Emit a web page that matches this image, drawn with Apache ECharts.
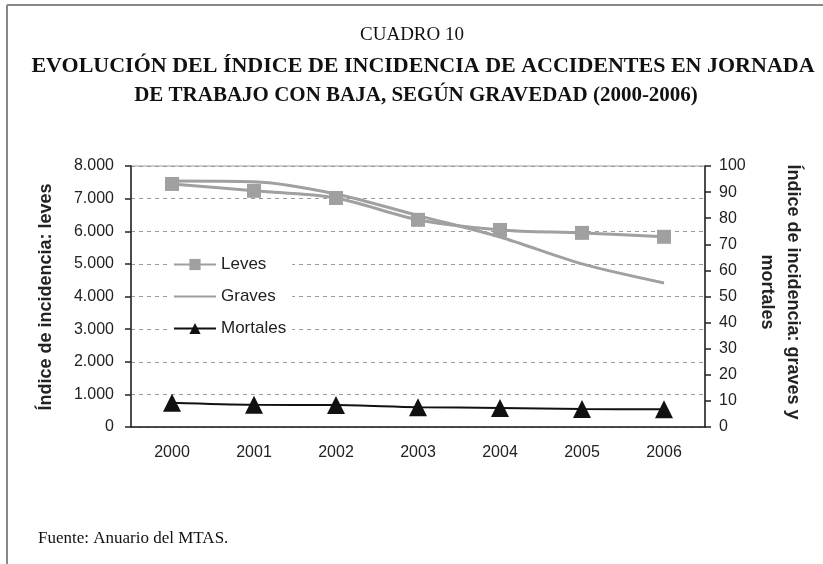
<!DOCTYPE html>
<html>
<head>
<meta charset="utf-8">
<script src="https://cdn.jsdelivr.net/npm/echarts@6/dist/echarts.min.js"></script>
<style>
    html, body { margin: 0; padding: 0; background: #fff; }
    #chart { width: 823px; height: 564px; }
</style>
</head>
<body>
<div id="chart"></div>
<script>
    // datos del cuadro
    var years = ['2000', '2001', '2002', '2003', '2004', '2005', '2006'];
    var leves = [7450, 7240, 7020, 6350, 6040, 5950, 5830];
    var graves = [94.3, 94.0, 89.3, 81.0, 72.8, 62.5, 55.2];
    var mortales = [9.3, 8.5, 8.4, 7.6, 7.3, 6.9, 6.8];
    var leftTicks = [0, 1000, 8000];   // min, interval, max
    var rightTicks = [0, 10, 100];

    var myChart = echarts.init(document.getElementById('chart'));

    function fmtMiles(v) {
        return String(v).replace(/\B(?=(\d{3})+(?!\d))/g, '.');
    }

    var option = {
        animation: false,
        textStyle: { fontFamily: 'Liberation Sans' },
        grid: {
            left: 131, right: 118, top: 166, bottom: 137,
            show: true,
            borderColor: '#9a9a9a',
            borderWidth: 1
        },
        legend: {
            orient: 'vertical',
            left: 169,
            top: 252,
            itemGap: 15,
            itemWidth: 42,
            itemHeight: 14,
            backgroundColor: '#fff',
            padding: [4, 6, 4, 4],
            textStyle: { fontSize: 17, color: '#222', fontFamily: 'Liberation Sans' },
            data: ['Leves', { name: 'Graves', itemStyle: { opacity: 0 } }, 'Mortales']
        },
        xAxis: {
            type: 'category',
            data: years,
            boundaryGap: true,
            axisLine: { lineStyle: { color: '#222', width: 1.5 } },
            axisTick: { length: 6, lineStyle: { color: '#222', width: 1.5 } },
            axisLabel: { color: '#222', fontSize: 16, margin: 18 }
        },
        yAxis: [{
            type: 'value',
            min: leftTicks[0],
            interval: leftTicks[1],
            max: leftTicks[2],
            axisLine: { show: true, lineStyle: { color: '#222', width: 1.5 } },
            axisTick: { show: true, length: 6, lineStyle: { color: '#222', width: 1.5 } },
            axisLabel: { color: '#222', fontSize: 16, margin: 17, formatter: fmtMiles },
            splitLine: { lineStyle: { color: '#9a9a9a', type: [4, 4] } }
        }, {
            type: 'value',
            min: rightTicks[0],
            interval: rightTicks[1],
            max: rightTicks[2],
            axisLine: { show: true, lineStyle: { color: '#222', width: 1.5 } },
            axisTick: { show: true, length: 6, lineStyle: { color: '#222', width: 1.5 } },
            axisLabel: { color: '#222', fontSize: 16, margin: 14 },
            splitLine: { show: false }
        }],
        series: [
            {
                name: 'Leves',
                type: 'line',
                yAxisIndex: 0,
                data: leves,
                smooth: 0.3,
                symbol: 'rect',
                symbolSize: 14,
                itemStyle: { color: '#a0a0a0' },
                lineStyle: { color: '#a0a0a0', width: 3 }
            },
            {
                name: 'Graves',
                type: 'line',
                yAxisIndex: 1,
                data: graves,
                smooth: 0.3,
                symbol: 'none',
                itemStyle: { color: '#a0a0a0' },
                lineStyle: { color: '#a0a0a0', width: 3 }
            },
            {
                name: 'Mortales',
                type: 'line',
                yAxisIndex: 1,
                data: mortales,
                smooth: 0.3,
                symbol: 'triangle',
                symbolSize: 18,
                itemStyle: { color: '#111' },
                lineStyle: { color: '#111', width: 2 }
            }
        ],
        graphic: [
            { type: 'line', shape: { x1: 7, y1: 5, x2: 823, y2: 5 }, style: { stroke: '#888', lineWidth: 2 } },
            { type: 'line', shape: { x1: 7, y1: 5, x2: 7, y2: 564 }, style: { stroke: '#888', lineWidth: 2 } },
            {
                type: 'text', x: 412, y: 35,
                style: { text: 'CUADRO 10', font: '19px "Liberation Serif"', fill: '#111', textAlign: 'center', textVerticalAlign: 'middle' }
            },
            {
                type: 'text', x: 423, y: 66,
                style: { text: 'EVOLUCIÓN DEL ÍNDICE DE INCIDENCIA DE ACCIDENTES EN JORNADA', font: 'bold 22px "Liberation Serif"', fill: '#111', textAlign: 'center', textVerticalAlign: 'middle' }
            },
            {
                type: 'text', x: 416, y: 96,
                style: { text: 'DE TRABAJO CON BAJA, SEGÚN GRAVEDAD (2000-2006)', font: 'bold 21px "Liberation Serif"', fill: '#111', textAlign: 'center', textVerticalAlign: 'middle' }
            },
            {
                type: 'text', x: 46, y: 297, rotation: Math.PI / 2,
                style: { text: 'Índice de incidencia: leves', font: 'bold 18px "Liberation Sans"', fill: '#222', textAlign: 'center', textVerticalAlign: 'middle' }
            },
            {
                type: 'text', x: 780, y: 292, rotation: -Math.PI / 2,
                style: { text: 'Índice de incidencia: graves y\nmortales', font: 'bold 18px "Liberation Sans"', fill: '#222', textAlign: 'center', textVerticalAlign: 'middle', lineHeight: 26 }
            },
            {
                type: 'text', x: 38, y: 539,
                style: { text: 'Fuente: Anuario del MTAS.', font: '17px "Liberation Serif"', fill: '#111', textAlign: 'left', textVerticalAlign: 'middle' }
            }
        ]
    };

    myChart.setOption(option);
</script>
</body>
</html>
